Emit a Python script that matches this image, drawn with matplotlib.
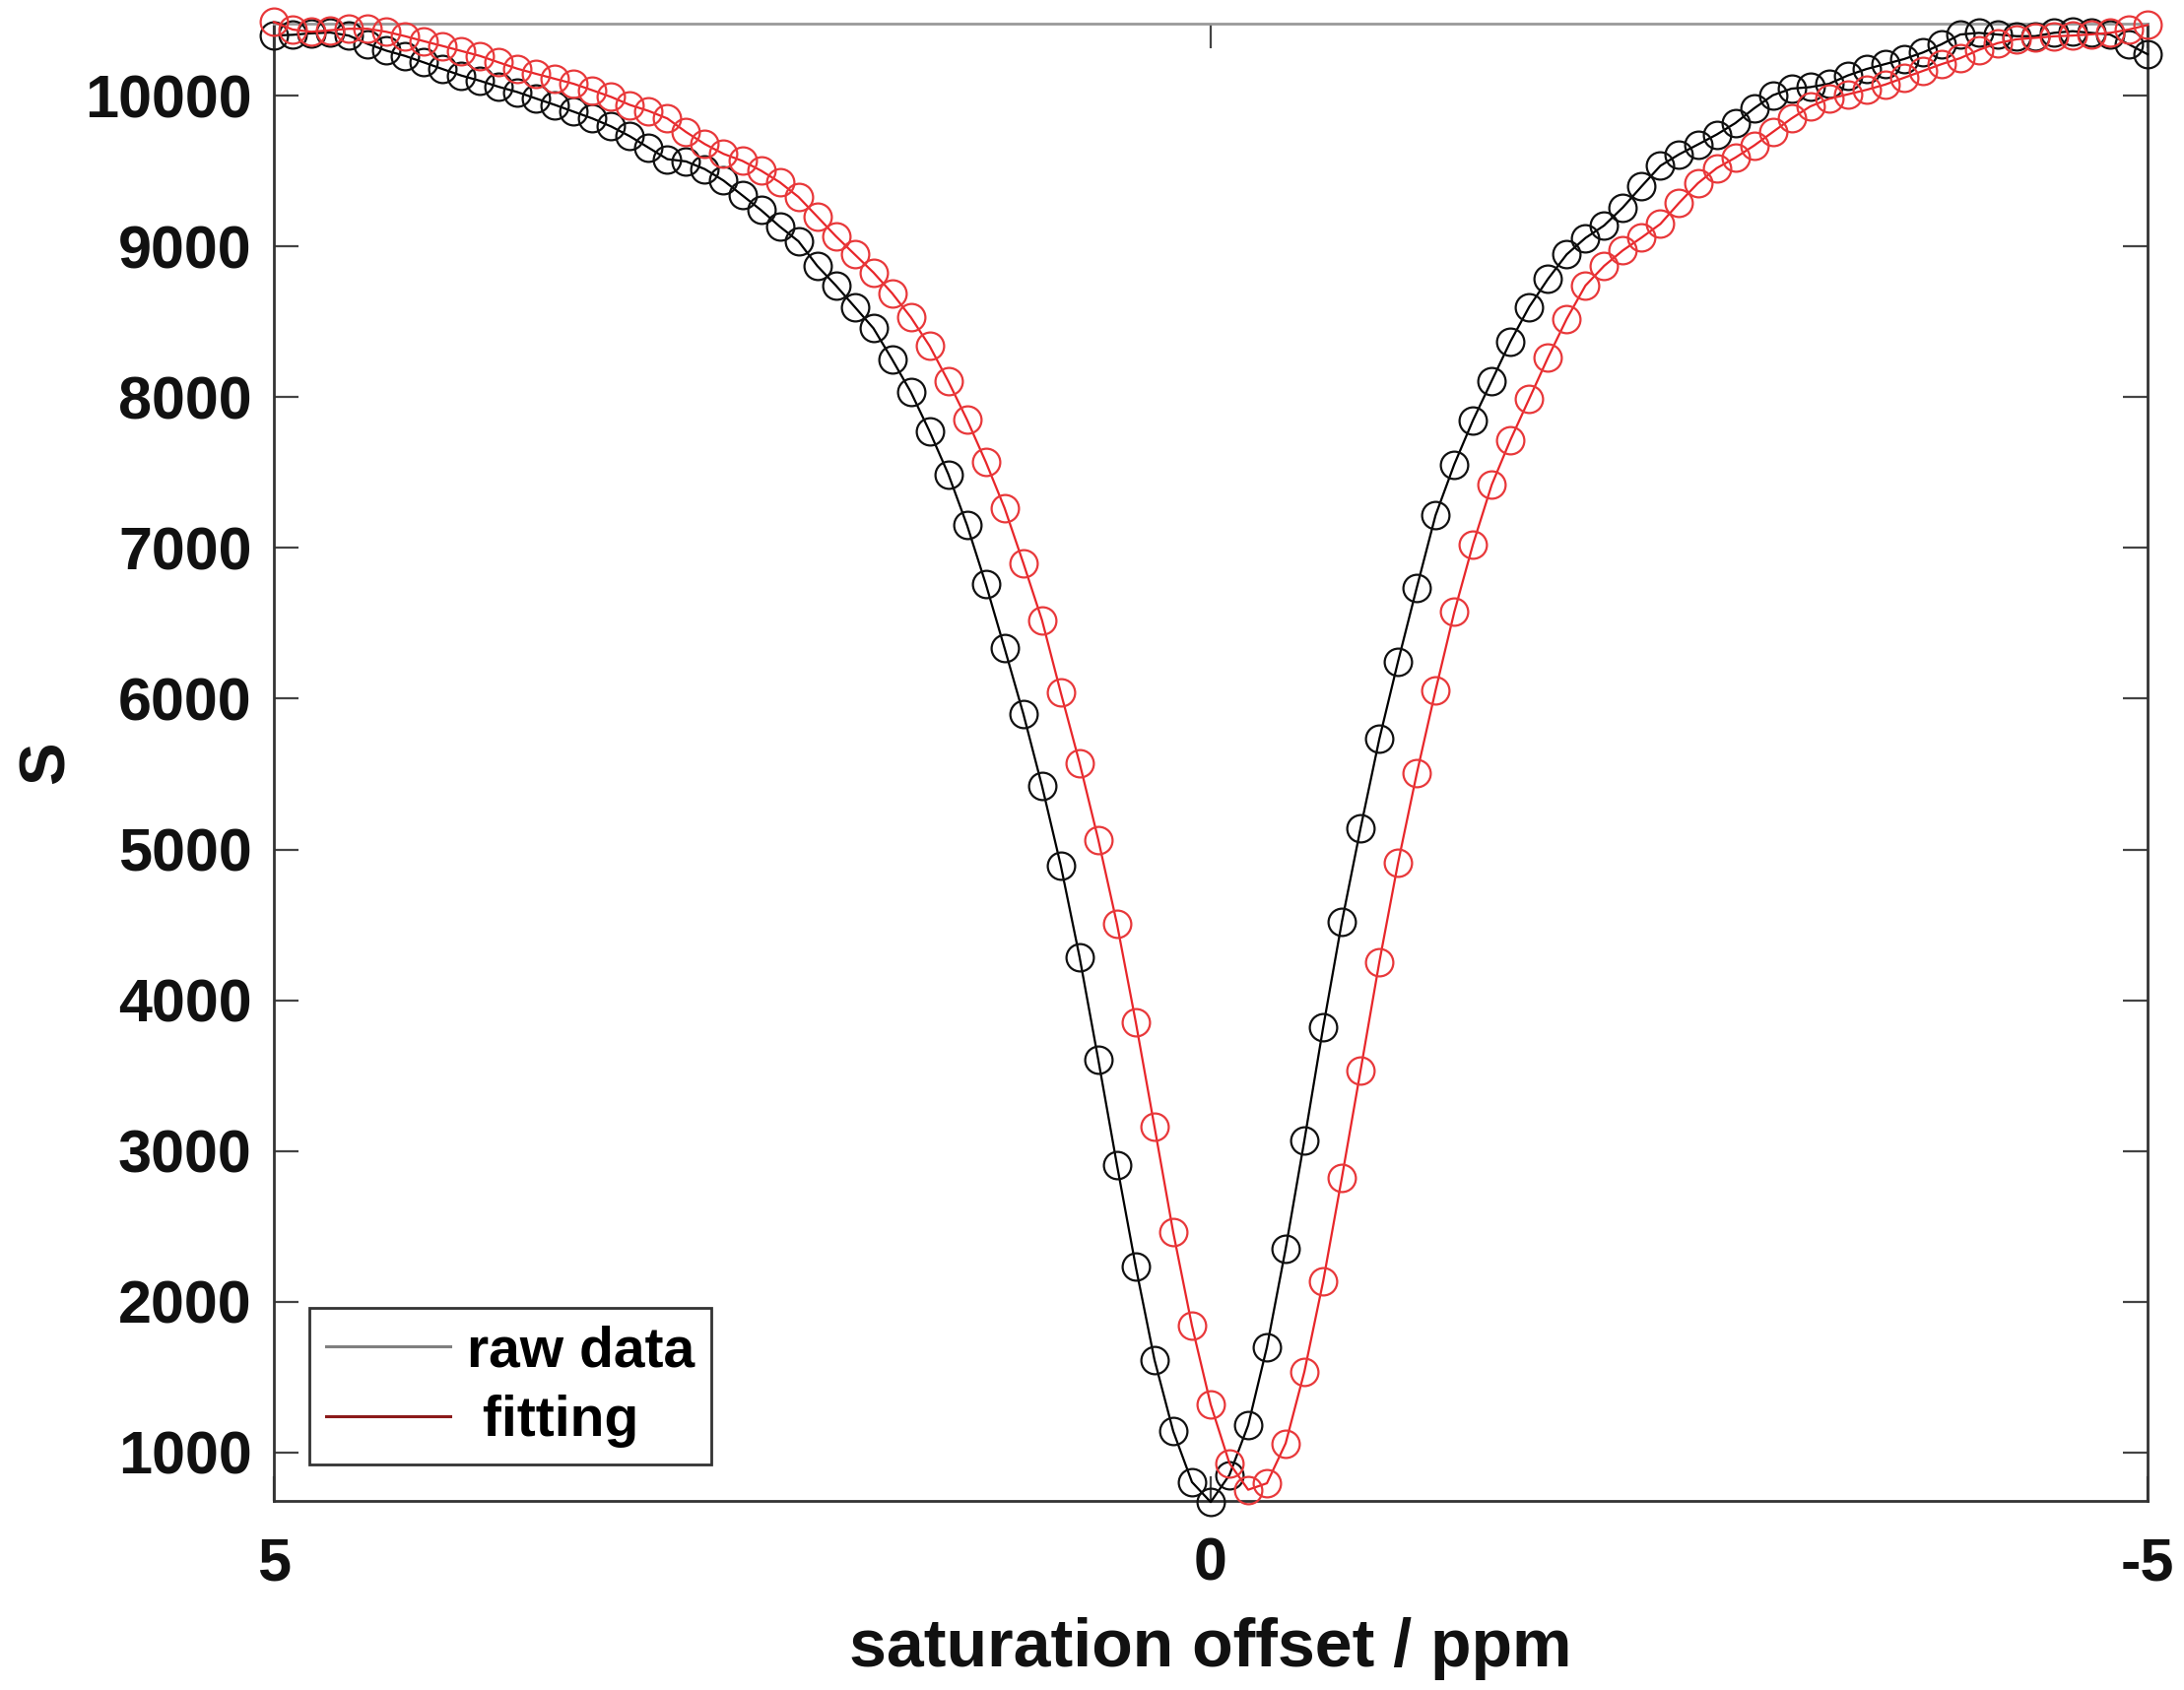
import numpy as np
import matplotlib
matplotlib.use('Agg')
import matplotlib.pyplot as plt
from matplotlib.lines import Line2D

plt.rcParams['font.family'] = ['Liberation Sans', 'DejaVu Sans']
plt.rcParams['axes.unicode_minus'] = False

# saturation offsets (ppm), sampled every 0.1 ppm from 5 to -5
offsets = np.linspace(5, -5, 101)

# raw Z-spectrum signal
raw_data = [
    10400, 10405, 10415, 10420, 10400, 10345, 10300, 10265, 10222, 10178,
    10135, 10100, 10060, 10025, 9982, 9940, 9895, 9850, 9797, 9732,
    9656, 9580, 9565, 9514, 9438, 9340, 9242, 9133, 9035, 8872,
    8741, 8600, 8458, 8251, 8034, 7773, 7489, 7150, 6760, 6335,
    5900, 5420, 4893, 4287, 3605, 2905, 2232, 1614, 1140, 803,
    670,
    850, 1180, 1698, 2351, 3070, 3818, 4519, 5142, 5733, 6248,
    6738, 7217, 7555, 7848, 8110, 8371, 8600, 8785, 8948, 9057,
    9140, 9260, 9400, 9536, 9612, 9677, 9743, 9819, 9917, 10004,
    10048, 10058, 10080, 10135, 10178, 10211, 10244, 10287, 10342, 10407,
    10418, 10407, 10396, 10396, 10418, 10429, 10418, 10407, 10342, 10276,
]

# fitted curve
fitting = [
    10490, 10440, 10425, 10435, 10445, 10445, 10425, 10396, 10363, 10331,
    10298, 10265, 10222, 10180, 10146, 10113, 10080, 10037, 9993, 9940,
    9900, 9850, 9760, 9680, 9615, 9569, 9504, 9427, 9329, 9199,
    9068, 8948, 8828, 8690, 8530, 8340, 8105, 7850, 7570, 7265,
    6900, 6520, 6040, 5575, 5065, 4505, 3855, 3160, 2460, 1840,
    1317,
    928, 752, 795, 1060, 1535, 2133, 2822, 3535, 4253, 4912,
    5505, 6055, 6575, 7025, 7420, 7718, 7990, 8263, 8520, 8741,
    8872, 8975, 9060, 9150, 9290, 9420, 9520, 9590, 9670, 9760,
    9850, 9930, 9980, 10010, 10040, 10075, 10120, 10165, 10210, 10250,
    10305, 10350, 10375, 10385, 10395, 10400, 10408, 10418, 10440, 10470,
]

x_ticks = [5, 0, -5]
y_ticks = [1000, 2000, 3000, 4000, 5000, 6000, 7000, 8000, 9000, 10000]

fig = plt.figure(figsize=(22.17, 17.16), dpi=100)
ax = fig.add_axes([0.1254, 0.1119, 0.8579, 0.8741])

ax.plot(offsets, raw_data, '-o', color='black', lw=1.6, ms=20,
        mfc='none', mec='#111111', mew=1.6, clip_on=False, zorder=3)
ax.plot(offsets, fitting, '-o', color='#e8262a', lw=1.6, ms=20,
        mfc='none', mec='#e8383a', mew=1.6, clip_on=False, zorder=4)

ax.set_xlim(5, -5)
ax.set_ylim(678, 10479)
ax.set_xticks(x_ticks)
ax.set_xticklabels([str(v) for v in x_ticks])
ax.set_yticks(y_ticks)

ax.tick_params(direction='in', top=True, right=True, length=18, width=1.6,
               color='#444444', labelsize=44)
ax.tick_params(axis='y', pad=16)
ax.tick_params(axis='x', pad=26)
for lab in ax.get_xticklabels() + ax.get_yticklabels():
    lab.set_fontweight('bold')
    lab.set_color('#111111')

for side in ['left', 'bottom', 'right']:
    ax.spines[side].set_color('#333333')
    ax.spines[side].set_linewidth(2)
ax.spines['top'].set_color('#999999')
ax.spines['top'].set_linewidth(2)

ax.set_xlabel('saturation offset / ppm', fontsize=49, fontweight='bold',
              color='#111111', labelpad=18)
ax.set_ylabel('S', fontsize=47, fontweight='bold', color='#111111',
              labelpad=6)

handles = [Line2D([], [], color='#808080', lw=2.2),
           Line2D([], [], color='#8b1a1a', lw=2.2)]
leg = ax.legend(handles, ['raw data', ' fitting'], loc='lower left',
                bbox_to_anchor=(0.019, 0.0245),
                prop={'weight': 'bold', 'size': 41},
                frameon=True, fancybox=False, handlelength=2.2,
                handletextpad=0.3, borderpad=0.3, labelspacing=0.3,
                borderaxespad=0)
leg.get_frame().set_edgecolor('black')
leg.get_frame().set_linewidth(2)

fig.savefig('out.png', dpi=100)
